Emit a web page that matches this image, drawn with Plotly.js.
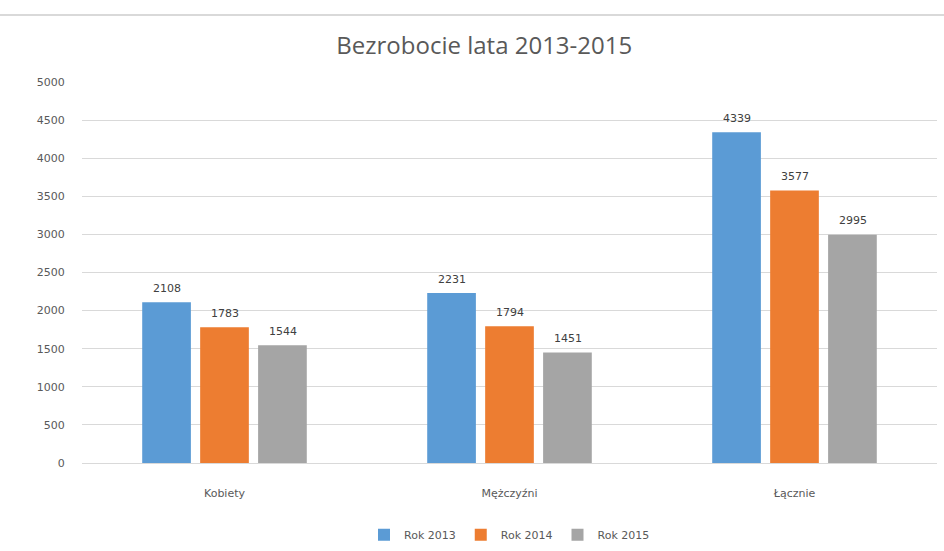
<!DOCTYPE html>
<html>
<head>
<meta charset="utf-8">
<script src="https://cdn.plot.ly/plotly-3.0.1.min.js"></script>
<style>
  html, body { margin: 0; padding: 0; background: #fff; }
  #chart { width: 944px; height: 551px; }
</style>
</head>
<body>
<div id="chart"></div>
<script>
// categories and series
const categories = ["Kobiety", "Mężczyźni", "Łącznie"];
const seriesNames = ["Rok 2013", "Rok 2014", "Rok 2015"];
const rok2013 = [2108, 2231, 4339];
const rok2014 = [1783, 1794, 3577];
const rok2015 = [1544, 1451, 2995];
const yTicks = [0, 500, 1000, 1500, 2000, 2500, 3000, 3500, 4000, 4500, 5000];

const colors = ["#5B9BD5", "#ED7D31", "#A5A5A5"];
const allValues = [rok2013, rok2014, rok2015];

const traces = allValues.map((vals, i) => ({
    type: "bar",
    name: seriesNames[i],
    x: categories,
    y: vals,
    marker: { color: colors[i] },
    hoverinfo: "x+y+name",
}));

// value labels: one per bar, shifted sideways to its slot in the group
const slotPx = 58;
const annotations = [];
allValues.forEach((vals, i) => {
    vals.forEach((v, j) => {
        annotations.push({
            xref: "x",
            yref: "y",
            x: categories[j],
            y: v,
            text: String(v),
            showarrow: false,
            xshift: (i - 1) * slotPx,
            yshift: 14,
            yanchor: "middle",
            font: { family: "DejaVu Sans", size: 11, color: "#404040" },
        });
    });
});

const layout = {
    width: 944,
    height: 551,
    margin: { l: 82, r: 7, t: 82, b: 88, autoexpand: false },
    paper_bgcolor: "#ffffff",
    plot_bgcolor: "#ffffff",
    font: { family: "DejaVu Sans", size: 11, color: "#595959" },
    title: {
        text: "Bezrobocie lata 2013-2015",
        font: { family: "Liberation Sans Narrow, Open Sans", size: 24, color: "#595959" },
        x: 0.513,
        xanchor: "center",
        y: 0.918,
        yanchor: "middle",
    },
    bargap: 0.39,
    bargroupgap: 0.16,
    showlegend: true,
    legend: {
        orientation: "h",
        x: 0.5,
        xanchor: "center",
        y: -0.15,
        yanchor: "top",
        font: { family: "DejaVu Sans", size: 11, color: "#595959" },
        itemwidth: 30,
        traceorder: "normal",
    },
    annotations: annotations,
    xaxis: {
        type: "category",
        automargin: false,
        showgrid: false,
        showline: true,
        linecolor: "#d9d9d9",
        linewidth: 1,
        ticks: "outside",
        ticklen: 20,
        tickcolor: "rgba(0,0,0,0)",
        tickfont: { family: "DejaVu Sans", size: 11, color: "#595959" },
    },
    yaxis: {
        range: [0, 5000],
        automargin: false,
        tickvals: yTicks,
        ticktext: yTicks.map(String),
        showgrid: true,
        gridcolor: "#d9d9d9",
        gridwidth: 1,
        zeroline: false,
        showline: false,
        ticks: "outside",
        ticklen: 14,
        tickcolor: "rgba(0,0,0,0)",
        tickfont: { family: "DejaVu Sans", size: 11, color: "#595959" },
    },
    shapes: [
        {
            type: "line",
            xref: "paper",
            yref: "paper",
            x0: -0.1,
            x1: 1.01,
            y0: 1.176,
            y1: 1.176,
            line: { color: "#d9d9d9", width: 2 },
        },
    ],
};

Plotly.newPlot("chart", traces, layout, { displayModeBar: false, responsive: false });
</script>
</body>
</html>
